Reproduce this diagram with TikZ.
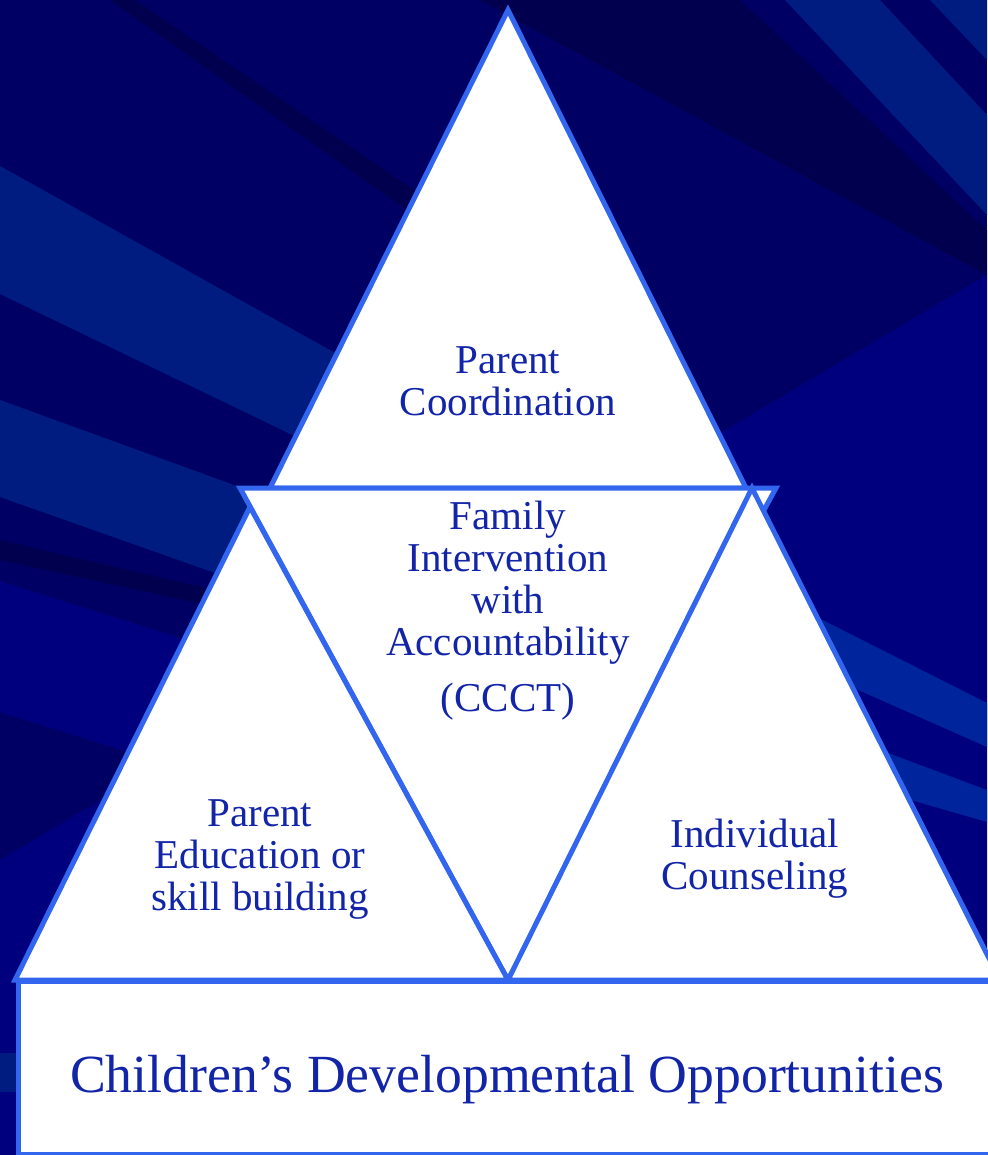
\documentclass[tikz,border=0pt]{standalone}
\usepackage{fontspec}
\setmainfont{Liberation Serif}
\definecolor{bgbase}{RGB}{0,0,100}
\definecolor{bgdark}{RGB}{0,0,78}
\definecolor{bgnavy}{RGB}{0,0,126}
\definecolor{bglight}{RGB}{0,28,128}
\definecolor{bgpale}{RGB}{0,36,155}
\definecolor{edgeblue}{RGB}{51,102,238}
\definecolor{textblue}{RGB}{18,36,168}
\begin{document}
\begin{tikzpicture}[x=1pt,y=-1pt,
  tri/.style={draw=edgeblue, line width=5pt, fill=white, line join=miter},
  lbl/.style={text=textblue, align=center, inner sep=0pt,
              font=\fontsize{41}{42}\selectfont},
]
\useasboundingbox (0,0) rectangle (987,1155);

% backdrop with diagonal streaks
\begin{scope}
  \clip (0,0) rectangle (987,1155);
  \fill[bgbase] (0,0) rectangle (987,1155);
  % brighter navy over the right and lower part
  \fill[bgnavy] (987,275) -- (987,1155) -- (0,1155) -- (0,860) -- cycle;
  \fill[bgnavy] (0,581) -- (250,660) -- (250,790) -- (0,712) -- cycle;
  % darker streaks
  \fill[bgdark] (110,0) -- (135,0) -- (520,262) -- (520,290) -- cycle;
  \fill[bgdark] (480,0) -- (740,0) -- (987,230) -- (987,275) -- cycle;
  \fill[bgdark] (0,540) -- (300,610) -- (300,625) -- (0,560) -- cycle;
  % lighter streaks, left
  \fill[bglight] (0,166) -- (450,417) -- (450,511) -- (0,294) -- cycle;
  \fill[bglight] (0,400) -- (300,509) -- (300,603) -- (0,497) -- cycle;
  \fill[bglight] (0,1053) -- (40,1053) -- (40,1092) -- (0,1092) -- cycle;
  % lighter streaks, right
  \fill[bglight] (785,0) -- (880,0) -- (987,115) -- (987,215) -- cycle;
  \fill[bglight] (930,0) -- (987,0) -- (987,60) -- cycle;
  \fill[bgpale] (700,558) -- (987,703) -- (987,747) -- (700,620) -- cycle;
  \fill[bgpale] (800,720) -- (987,790) -- (987,822) -- (800,768) -- cycle;
\end{scope}

% the four triangles and the base block
\draw[tri] (508,10) -- (270,488) -- (746,488) -- cycle;
\draw[tri] (240,488) -- (776,488) -- (508,980) -- cycle;
\draw[tri] (250,507) -- (508,980) -- (15,980) -- cycle;
\draw[tri] (752,488) -- (1000,980) -- (508,980) -- cycle;
\draw[tri] (18,981) rectangle (1010,1154);

% labels
\node[lbl] (pc) at (508,381) {Parent\\Coordination};
\node[lbl] (fi) at (508,583) {Family\\Intervention\\with\\Accountability};
\node[lbl] (cc) at (508,702) {(CCCT)};
\node[lbl] (pe) at (260,859) {Parent\\Education or\\skill building};
\node[lbl] (ic) at (755,859) {Individual\\Counseling};
\node[lbl, font=\fontsize{53.7}{60}\selectfont] (cdo) at (507,1080)
  {Children’s Developmental Opportunities};
\end{tikzpicture}
\end{document}
